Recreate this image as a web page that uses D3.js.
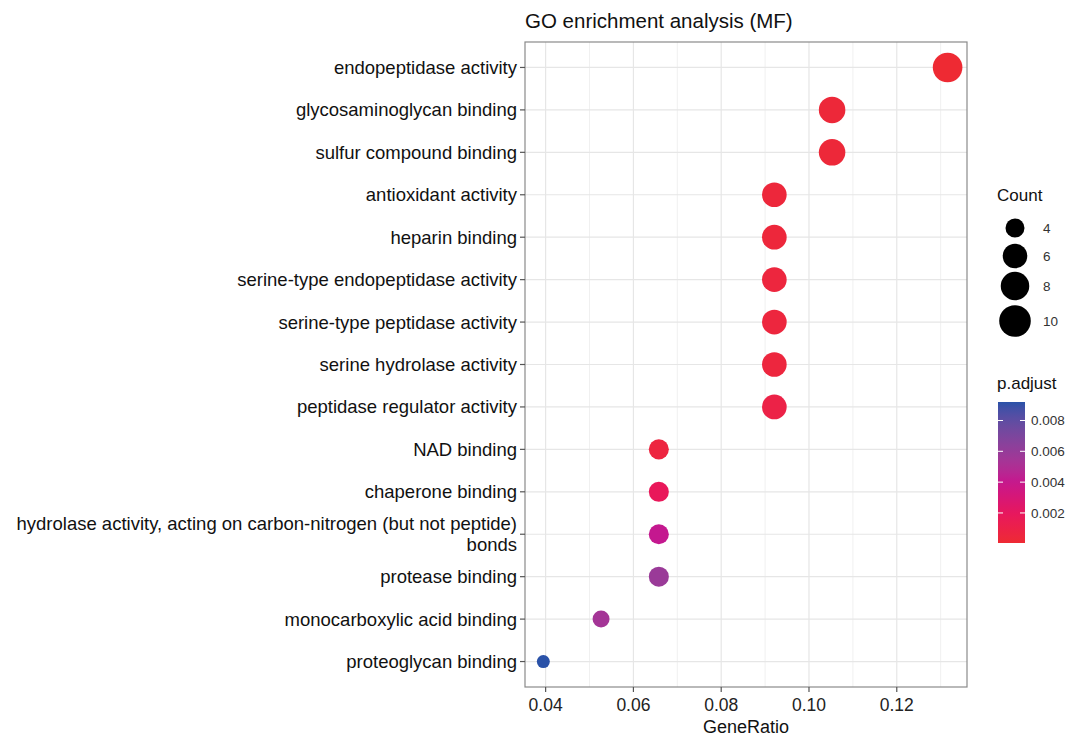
<!DOCTYPE html>
<html>
<head>
<meta charset="utf-8">
<script src="https://cdn.jsdelivr.net/npm/d3@7"></script>
<style>
  body { margin: 0; background: #fff; }
  svg text { font-family: "Liberation Sans", Arial, sans-serif; }
</style>
</head>
<body>
<svg id="chart" width="1069" height="737"></svg>
<script>
// GO terms, top to bottom
var terms = [
  "endopeptidase activity",
  "glycosaminoglycan binding",
  "sulfur compound binding",
  "antioxidant activity",
  "heparin binding",
  "serine-type endopeptidase activity",
  "serine-type peptidase activity",
  "serine hydrolase activity",
  "peptidase regulator activity",
  "NAD binding",
  "chaperone binding",
  "hydrolase activity, acting on carbon-nitrogen (but not peptide) bonds",
  "protease binding",
  "monocarboxylic acid binding",
  "proteoglycan binding"
];
var counts = [10, 8, 8, 7, 7, 7, 7, 7, 7, 5, 5, 5, 5, 4, 3];
var totalGenes = 76;
var padj = [0.00005, 0.0003, 0.0003, 0.0004, 0.0004, 0.0005, 0.0005, 0.0005, 0.0009,
            0.0006, 0.0018, 0.0041, 0.0058, 0.0054, 0.0092];
var xTicks = [0.04, 0.06, 0.08, 0.10, 0.12];
var xMinor = [0.05, 0.07, 0.09, 0.11, 0.13];
var sizeBreaks = [4, 6, 8, 10];
var colorBreaks = [0.002, 0.004, 0.006, 0.008];

var svg = d3.select("#chart");

var pLeft = 525, pRight = 967, pTop = 42, pBottom = 687;

var x = d3.scaleLinear().domain([0.0353, 0.136]).range([pLeft, pRight]);
var y = d3.scalePoint().domain(terms).range([pTop, pBottom]).padding(0.6);
var r = d3.scaleLog().domain([3, 10]).range([6.5, 14.8]);
var pMin = d3.min(padj), pMax = d3.max(padj);
var color = d3.scaleLinear()
  .domain([pMin, 0.0018, 0.0041, 0.0058, pMax])
  .range(["#ee2a33", "#e9185a", "#c4188f", "#9a3a98", "#2a52a8"])
  .interpolate(d3.interpolateLab);

var data = terms.map(function(t, i) {
  return { term: t, count: counts[i], ratio: counts[i] / totalGenes, p: padj[i] };
});

// grid
var grid = svg.append("g");
grid.selectAll(".minor").data(xMinor).enter().append("line")
  .attr("x1", function(d) { return x(d); }).attr("x2", function(d) { return x(d); })
  .attr("y1", pTop).attr("y2", pBottom)
  .attr("stroke", "#f0f0f0").attr("stroke-width", 1);
grid.selectAll(".vmaj").data(xTicks).enter().append("line")
  .attr("x1", function(d) { return x(d); }).attr("x2", function(d) { return x(d); })
  .attr("y1", pTop).attr("y2", pBottom)
  .attr("stroke", "#e6e6e6").attr("stroke-width", 1.2);
grid.selectAll(".hmaj").data(terms).enter().append("line")
  .attr("x1", pLeft).attr("x2", pRight)
  .attr("y1", function(d) { return y(d); }).attr("y2", function(d) { return y(d); })
  .attr("stroke", "#e6e6e6").attr("stroke-width", 1.2);

// points
svg.append("g").selectAll("circle").data(data).enter().append("circle")
  .attr("cx", function(d) { return x(d.ratio); })
  .attr("cy", function(d) { return y(d.term); })
  .attr("r", function(d) { return r(d.count); })
  .attr("fill", function(d) { return color(d.p); });

// panel border
svg.append("rect")
  .attr("x", pLeft).attr("y", pTop).attr("width", pRight - pLeft).attr("height", pBottom - pTop)
  .attr("fill", "none").attr("stroke", "#8a8a8a").attr("stroke-width", 1.2);

// y axis
var yAxis = svg.append("g");
terms.forEach(function(t) {
  var yy = y(t);
  yAxis.append("line").attr("x1", pLeft - 5).attr("x2", pLeft).attr("y1", yy).attr("y2", yy)
    .attr("stroke", "#555").attr("stroke-width", 1.2);
  var txt = yAxis.append("text").attr("x", pLeft - 8).attr("text-anchor", "end")
    .attr("font-size", 18.5).attr("fill", "#111");
  if (t.indexOf("hydrolase activity, acting") === 0) {
    txt.append("tspan").attr("x", pLeft - 8).attr("y", yy - 4).text("hydrolase activity, acting on carbon-nitrogen (but not peptide)");
    txt.append("tspan").attr("x", pLeft - 8).attr("y", yy + 17).text("bonds");
  } else {
    txt.attr("y", yy + 6.5).text(t);
  }
});

// x axis
var xAxis = svg.append("g");
xTicks.forEach(function(v) {
  xAxis.append("line").attr("x1", x(v)).attr("x2", x(v)).attr("y1", pBottom).attr("y2", pBottom + 5)
    .attr("stroke", "#555").attr("stroke-width", 1.2);
  xAxis.append("text").attr("x", x(v)).attr("y", pBottom + 24).attr("text-anchor", "middle")
    .attr("font-size", 17.5).attr("fill", "#222").text(d3.format(".2f")(v));
});
svg.append("text").attr("x", (pLeft + pRight) / 2).attr("y", 733).attr("text-anchor", "middle")
  .attr("font-size", 18).attr("fill", "#111").text("GeneRatio");

// title
svg.append("text").attr("x", pLeft).attr("y", 28).attr("font-size", 20.5).attr("fill", "#111")
  .text("GO enrichment analysis (MF)");

// size legend
var lg = svg.append("g");
lg.append("text").attr("x", 997).attr("y", 201).attr("font-size", 17).attr("fill", "#111").text("Count");
var sizeY = [228, 256, 286, 321];
sizeBreaks.forEach(function(c, i) {
  lg.append("circle").attr("cx", 1015).attr("cy", sizeY[i]).attr("r", r(c) + 1).attr("fill", "#000");
  lg.append("text").attr("x", 1043).attr("y", sizeY[i] + 5).attr("font-size", 13.5).attr("fill", "#333").text(c);
});

// colour bar
var cbTop = 402, cbBot = 543, cbL = 998, cbW = 27;
var cy = d3.scaleLinear().domain([pMin, pMax]).range([cbBot, cbTop]);
var defs = svg.append("defs");
var grad = defs.append("linearGradient").attr("id", "pgrad")
  .attr("x1", 0).attr("y1", 1).attr("x2", 0).attr("y2", 0);
d3.range(0, 1.0001, 0.05).forEach(function(s) {
  grad.append("stop").attr("offset", s).attr("stop-color", color(pMin + s * (pMax - pMin)));
});
lg.append("text").attr("x", 997).attr("y", 389).attr("font-size", 17).attr("fill", "#111").text("p.adjust");
lg.append("rect").attr("x", cbL).attr("y", cbTop).attr("width", cbW).attr("height", cbBot - cbTop)
  .attr("fill", "url(#pgrad)");
colorBreaks.forEach(function(v) {
  var yy = cy(v);
  lg.append("line").attr("x1", cbL).attr("x2", cbL + 5).attr("y1", yy).attr("y2", yy).attr("stroke", "#fff").attr("stroke-width", 1);
  lg.append("line").attr("x1", cbL + cbW - 5).attr("x2", cbL + cbW).attr("y1", yy).attr("y2", yy).attr("stroke", "#fff").attr("stroke-width", 1);
  lg.append("text").attr("x", cbL + cbW + 6).attr("y", yy + 5).attr("font-size", 13.5).attr("fill", "#333")
    .text(d3.format(".3f")(v));
});
</script>
</body>
</html>
